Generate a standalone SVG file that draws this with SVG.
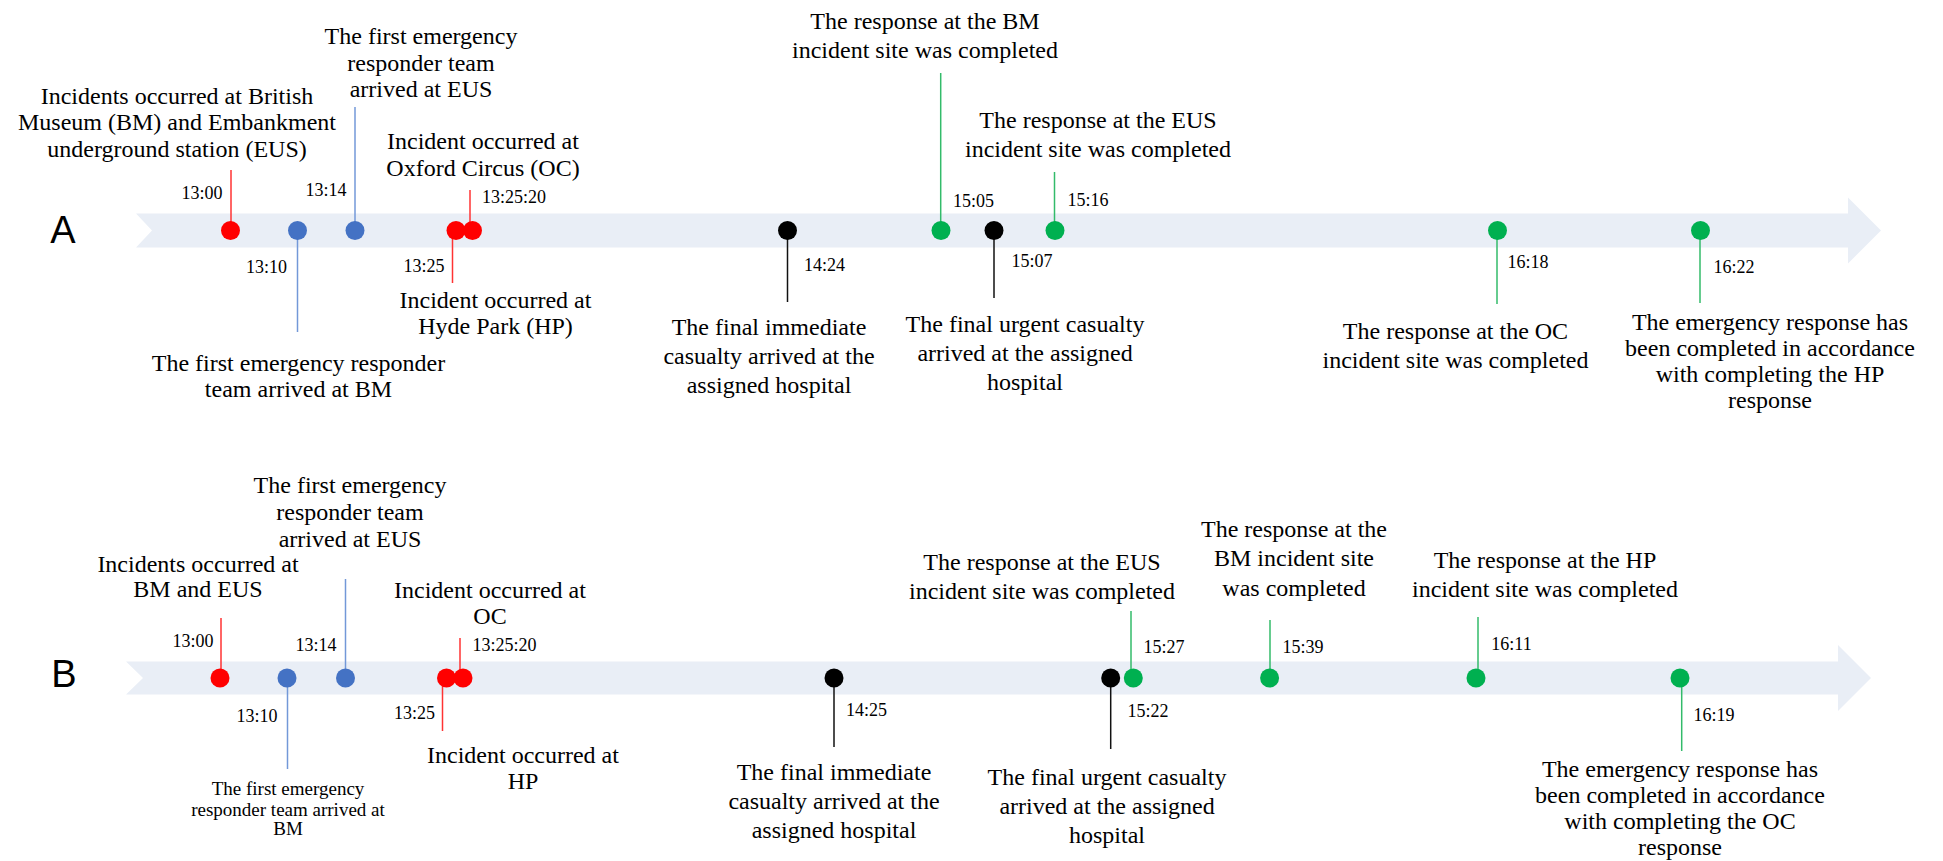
<svg xmlns="http://www.w3.org/2000/svg" width="1943" height="861" viewBox="0 0 1943 861">
  <style>
    .band { fill: #E9EEF6; }
    .lbl { font-family: "Liberation Serif", "Times New Roman", serif; font-size: 24px; fill: #000; text-anchor: middle; }
    .sm { font-family: "Liberation Serif", "Times New Roman", serif; font-size: 19px; fill: #000; text-anchor: middle; }
    .t { font-family: "Liberation Serif", "Times New Roman", serif; font-size: 18px; fill: #000; text-anchor: middle; }
    .row { font-family: "Liberation Sans", Arial, sans-serif; font-size: 38px; fill: #000; text-anchor: middle; }
    .ln { stroke-width: 1.5; fill: none; }
    .lr { stroke: #FF3333; }
    .lb { stroke: #7398D8; }
    .lg { stroke: #33BB6A; }
    .lk { stroke: #111; }
    .r { fill: #FF0000; }
    .b { fill: #4472C4; }
    .g { fill: #00B050; }
    .k { fill: #000; }
  </style>
  <rect width="1943" height="861" fill="#fff"/>

  <!-- Timeline arrows -->
  <g id="timeline-a">
    <polygon class="band" points="136,213.5 1848,213.5 1848,197.5 1881,230.5 1848,263.5 1848,247.5 136,247.5 152,230.5"/>
    <text class="row" x="63" y="243">A</text>
  </g>
  <g id="timeline-b">
    <polygon class="band" points="126,661.5 1838,661.5 1838,645 1871,678 1838,711 1838,694.5 126,694.5 143,678"/>
    <text class="row" x="64" y="687">B</text>
  </g>

  <!-- Leader lines from events to their captions -->
  <g id="connectors">
    <line class="ln lr" x1="231" y1="170" x2="231" y2="230"/>
    <line class="ln lb" x1="297.5" y1="231" x2="297.5" y2="332"/>
    <line class="ln lb" x1="355" y1="107" x2="355" y2="230"/>
    <line class="ln lr" x1="452.5" y1="231" x2="452.5" y2="283"/>
    <line class="ln lr" x1="470" y1="190" x2="470" y2="230"/>
    <line class="ln lk" x1="787.5" y1="231" x2="787.5" y2="302"/>
    <line class="ln lg" x1="940.7" y1="73" x2="940.7" y2="230"/>
    <line class="ln lk" x1="994" y1="231" x2="994" y2="298"/>
    <line class="ln lg" x1="1054.5" y1="172" x2="1054.5" y2="230"/>
    <line class="ln lg" x1="1497" y1="231" x2="1497" y2="304"/>
    <line class="ln lg" x1="1700" y1="231" x2="1700" y2="303"/>

    <line class="ln lr" x1="221" y1="618" x2="221" y2="678"/>
    <line class="ln lb" x1="287.5" y1="678" x2="287.5" y2="769"/>
    <line class="ln lb" x1="345.5" y1="579" x2="345.5" y2="678"/>
    <line class="ln lr" x1="442.5" y1="678" x2="442.5" y2="731"/>
    <line class="ln lr" x1="460" y1="638" x2="460" y2="678"/>
    <line class="ln lk" x1="834" y1="678" x2="834" y2="747"/>
    <line class="ln lk" x1="1110.7" y1="678" x2="1110.7" y2="749"/>
    <line class="ln lg" x1="1131" y1="611" x2="1131" y2="678"/>
    <line class="ln lg" x1="1270" y1="620" x2="1270" y2="678"/>
    <line class="ln lg" x1="1478" y1="617" x2="1478" y2="678"/>
    <line class="ln lg" x1="1681.7" y1="678" x2="1681.7" y2="751"/>
  </g>

  <!-- Events on timeline A -->
  <g id="a-1300">
    <circle class="r" cx="230.5" cy="230.5" r="9.5"/>
    <text class="t" x="202" y="199">13:00</text>
    <text class="lbl" x="177"><tspan x="177" y="104">Incidents occurred at British</tspan><tspan x="177" y="130">Museum (BM) and Embankment</tspan><tspan x="177" y="157">underground station (EUS)</tspan></text>
  </g>
  <g id="a-1310">
    <circle class="b" cx="297.5" cy="230.5" r="9.5"/>
    <text class="t" x="266.5" y="273">13:10</text>
    <text class="lbl"><tspan x="298.5" y="371">The first emergency responder</tspan><tspan x="298.5" y="397">team arrived at BM</tspan></text>
  </g>
  <g id="a-1314">
    <circle class="b" cx="355" cy="230.5" r="9.5"/>
    <text class="t" x="326" y="195.5">13:14</text>
    <text class="lbl"><tspan x="421" y="44">The first emergency</tspan><tspan x="421" y="71">responder team</tspan><tspan x="421" y="97">arrived at EUS</tspan></text>
  </g>
  <g id="a-1325">
    <circle class="r" cx="456" cy="230.5" r="9.5"/>
    <text class="t" x="424" y="272">13:25</text>
    <text class="lbl"><tspan x="495.5" y="308">Incident occurred at</tspan><tspan x="495.5" y="334">Hyde Park (HP)</tspan></text>
  </g>
  <g id="a-132520">
    <circle class="r" cx="472.5" cy="230.5" r="9.5"/>
    <text class="t" x="514" y="203">13:25:20</text>
    <text class="lbl"><tspan x="483" y="149">Incident occurred at</tspan><tspan x="483" y="176">Oxford Circus (OC)</tspan></text>
  </g>
  <g id="a-1424">
    <circle class="k" cx="787.5" cy="230.5" r="9.5"/>
    <text class="t" x="824.5" y="271">14:24</text>
    <text class="lbl"><tspan x="769" y="335">The final immediate</tspan><tspan x="769" y="364">casualty arrived at the</tspan><tspan x="769" y="393">assigned hospital</tspan></text>
  </g>
  <g id="a-1505">
    <circle class="g" cx="941" cy="230.5" r="9.5"/>
    <text class="t" x="973.5" y="206.5">15:05</text>
    <text class="lbl"><tspan x="925" y="29">The response at the BM</tspan><tspan x="925" y="58">incident site was completed</tspan></text>
  </g>
  <g id="a-1507">
    <circle class="k" cx="994" cy="230.5" r="9.5"/>
    <text class="t" x="1032" y="267">15:07</text>
    <text class="lbl"><tspan x="1025" y="332">The final urgent casualty</tspan><tspan x="1025" y="361">arrived at the assigned</tspan><tspan x="1025" y="390">hospital</tspan></text>
  </g>
  <g id="a-1516">
    <circle class="g" cx="1055" cy="230.5" r="9.5"/>
    <text class="t" x="1088" y="206">15:16</text>
    <text class="lbl"><tspan x="1098" y="128">The response at the EUS</tspan><tspan x="1098" y="157">incident site was completed</tspan></text>
  </g>
  <g id="a-1618">
    <circle class="g" cx="1497.5" cy="230.5" r="9.5"/>
    <text class="t" x="1528" y="268">16:18</text>
    <text class="lbl"><tspan x="1455.5" y="339">The response at the OC</tspan><tspan x="1455.5" y="368">incident site was completed</tspan></text>
  </g>
  <g id="a-1622">
    <circle class="g" cx="1700.5" cy="230.5" r="9.5"/>
    <text class="t" x="1734" y="273">16:22</text>
    <text class="lbl"><tspan x="1770" y="330">The emergency response has</tspan><tspan x="1770" y="356">been completed in accordance</tspan><tspan x="1770" y="382">with completing the HP</tspan><tspan x="1770" y="408">response</tspan></text>
  </g>

  <!-- Events on timeline B -->
  <g id="b-1300">
    <circle class="r" cx="220" cy="678" r="9.5"/>
    <text class="t" x="193" y="647">13:00</text>
    <text class="lbl"><tspan x="198" y="572">Incidents occurred at</tspan><tspan x="198" y="597">BM and EUS</tspan></text>
  </g>
  <g id="b-1310">
    <circle class="b" cx="287" cy="678" r="9.5"/>
    <text class="t" x="257" y="722">13:10</text>
    <text class="sm"><tspan x="288" y="795">The first emergency</tspan><tspan x="288" y="816">responder team arrived at</tspan><tspan x="288" y="835">BM</tspan></text>
  </g>
  <g id="b-1314">
    <circle class="b" cx="345.5" cy="678" r="9.5"/>
    <text class="t" x="316" y="651">13:14</text>
    <text class="lbl"><tspan x="350" y="493">The first emergency</tspan><tspan x="350" y="520">responder team</tspan><tspan x="350" y="547">arrived at EUS</tspan></text>
  </g>
  <g id="b-1325">
    <circle class="r" cx="446.5" cy="678" r="9.5"/>
    <text class="t" x="414.5" y="719">13:25</text>
    <text class="lbl"><tspan x="523" y="763">Incident occurred at</tspan><tspan x="523" y="789">HP</tspan></text>
  </g>
  <g id="b-132520">
    <circle class="r" cx="463" cy="678" r="9.5"/>
    <text class="t" x="504.5" y="651">13:25:20</text>
    <text class="lbl"><tspan x="490" y="598">Incident occurred at</tspan><tspan x="490" y="624">OC</tspan></text>
  </g>
  <g id="b-1425">
    <circle class="k" cx="834" cy="678" r="9.5"/>
    <text class="t" x="866.5" y="716">14:25</text>
    <text class="lbl"><tspan x="834" y="780">The final immediate</tspan><tspan x="834" y="809">casualty arrived at the</tspan><tspan x="834" y="838">assigned hospital</tspan></text>
  </g>
  <g id="b-1522">
    <circle class="k" cx="1110.7" cy="678" r="9.5"/>
    <text class="t" x="1148" y="717">15:22</text>
    <text class="lbl"><tspan x="1107" y="785">The final urgent casualty</tspan><tspan x="1107" y="814">arrived at the assigned</tspan><tspan x="1107" y="843">hospital</tspan></text>
  </g>
  <g id="b-1527">
    <circle class="g" cx="1133.3" cy="678" r="9.5"/>
    <text class="t" x="1164" y="653">15:27</text>
    <text class="lbl"><tspan x="1042" y="570">The response at the EUS</tspan><tspan x="1042" y="599">incident site was completed</tspan></text>
  </g>
  <g id="b-1539">
    <circle class="g" cx="1269.6" cy="678" r="9.5"/>
    <text class="t" x="1303" y="653">15:39</text>
    <text class="lbl"><tspan x="1294" y="537">The response at the</tspan><tspan x="1294" y="566">BM incident site</tspan><tspan x="1294" y="596">was completed</tspan></text>
  </g>
  <g id="b-1611">
    <circle class="g" cx="1476" cy="678" r="9.5"/>
    <text class="t" x="1511.5" y="650">16:11</text>
    <text class="lbl"><tspan x="1545" y="568">The response at the HP</tspan><tspan x="1545" y="597">incident site was completed</tspan></text>
  </g>
  <g id="b-1619">
    <circle class="g" cx="1680" cy="678" r="9.5"/>
    <text class="t" x="1714" y="721">16:19</text>
    <text class="lbl"><tspan x="1680" y="777">The emergency response has</tspan><tspan x="1680" y="803">been completed in accordance</tspan><tspan x="1680" y="829">with completing the OC</tspan><tspan x="1680" y="855">response</tspan></text>
  </g>
</svg>
